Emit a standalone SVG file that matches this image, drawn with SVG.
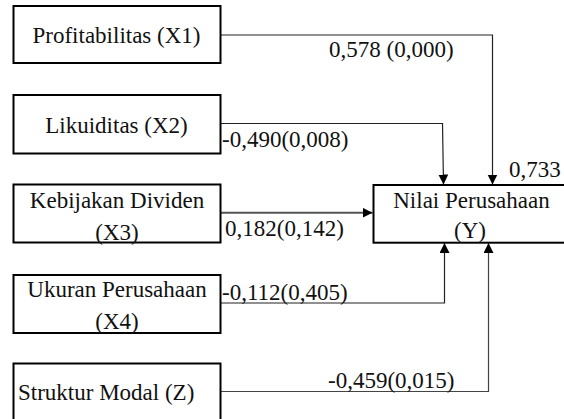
<svg xmlns="http://www.w3.org/2000/svg" width="564" height="419" viewBox="0 0 564 419" font-family="Liberation Serif, Tinos, Times New Roman, serif" font-size="23">
<style>
text{font-family:Liberation Serif, Tinos, serif;font-size:23px;fill:#111}
.box{fill:#fff;stroke:#000;stroke-width:2}
.c{fill:none;stroke:#222;stroke-width:1.2}
.mid{text-anchor:middle}
</style>
<defs>
<marker id="ah" markerUnits="userSpaceOnUse" markerWidth="11" markerHeight="11" refX="10" refY="5" orient="auto">
<path d="M0,0 L10,5 L0,10 z" fill="#000"/>
</marker>
</defs>
<rect width="564" height="419" fill="#fff"/>
<g id="connectors">
<path class="c" d="M220.5,35 H492.5 V184.5" marker-end="url(#ah)"/>
<path class="c" d="M220.5,123.5 H442.5 L443.5,184.5" marker-end="url(#ah)"/>
<path class="c" d="M220.5,212.7 H372.5" style="stroke:#555;stroke-width:2" marker-end="url(#ah)"/>
<path class="c" d="M220.5,303 H444.5 V243" marker-end="url(#ah)"/>
<path class="c" d="M220.5,391.5 H488.5 V243" style="stroke:#444" marker-end="url(#ah)"/>
<text x="329" y="57" font-family="Liberation Serif">0,578 (0,000)</text>
<text x="222" y="147">-0,490(0,008)</text>
<text x="225" y="236">0,182(0,142)</text>
<text x="222" y="300">-0,112(0,405)</text>
<text x="328" y="388">-0,459(0,015)</text>
<text x="509" y="177">0,733</text>
</g>
<g id="X1">
<rect class="box" x="13.5" y="6" width="207" height="57"/>
<text class="mid" x="116.5" y="43">Profitabilitas (X1)</text>
</g>
<g id="X2">
<rect class="box" x="13.5" y="95" width="207" height="58.5"/>
<text class="mid" x="116.5" y="133">Likuiditas (X2)</text>
</g>
<g id="X3">
<rect class="box" x="13.5" y="184.5" width="207" height="58"/>
<text class="mid" x="117" y="208">Kebijakan Dividen</text>
<text class="mid" x="117" y="240">(X3)</text>
</g>
<g id="X4">
<rect class="box" x="13.5" y="275" width="207" height="58"/>
<text class="mid" x="117" y="297">Ukuran Perusahaan</text>
<text class="mid" x="117" y="329">(X4)</text>
</g>
<g id="Z">
<rect class="box" x="13.5" y="363.5" width="207" height="70"/>
<text x="18" y="400">Struktur Modal (Z)</text>
</g>
<g id="Y">
<rect class="box" x="373.5" y="185" width="193" height="57.7"/>
<text class="mid" x="471.5" y="208">Nilai Perusahaan</text>
<text class="mid" x="470" y="238">(Y)</text>
</g>
</svg>
